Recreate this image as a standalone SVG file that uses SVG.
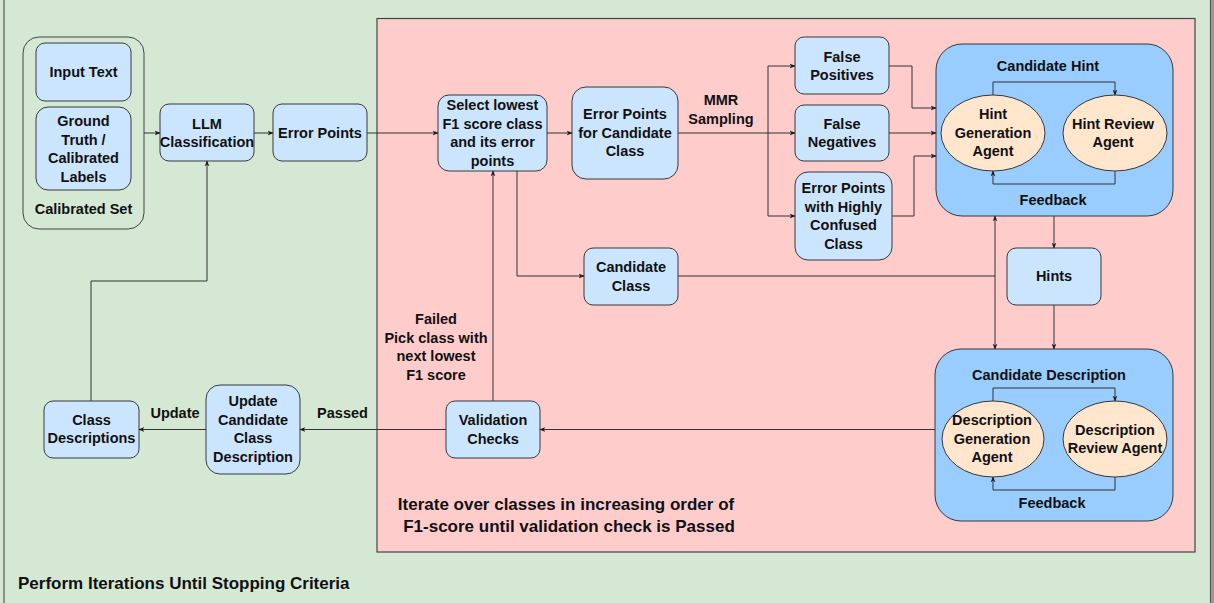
<svg xmlns="http://www.w3.org/2000/svg" width="1214" height="603" viewBox="0 0 1214 603">
<defs>
<marker id="ah" viewBox="0 0 10 10" refX="9" refY="5" markerWidth="6" markerHeight="6" orient="auto" markerUnits="userSpaceOnUse">
<path d="M0,1 L10,5 L0,9 L3,5 Z" fill="#1a1a1a"/>
</marker>
<style>
text{font-family:"Liberation Sans",Arial,Helvetica,sans-serif;font-weight:bold;font-size:14.5px;fill:#111;text-anchor:middle}
.big{font-size:17px}
.lft{text-anchor:start}
.node{fill:#cce5ff;stroke:#36393d;stroke-width:1}
.cont{fill:#99ccff;stroke:#36393d;stroke-width:1}
.ell{fill:#ffe6cc;stroke:#36393d;stroke-width:1}
.c path{fill:none;stroke:#333;stroke-width:1}
.a{marker-end:url(#ah)}
</style>
</defs>
<rect x="0" y="0" width="1214" height="603" fill="#d5e8d4"/>
<rect x="4" y="-5" width="1206.5" height="613" fill="#d5e8d4" stroke="#555" stroke-width="1.2"/>
<rect x="1211" y="0" width="3" height="603" fill="#9a9a9a"/>
<rect x="377" y="18.5" width="818" height="533.5" fill="#ffcccc" stroke="#444" stroke-width="1.2"/>
<text class="big" x="566" y="510">Iterate over classes in increasing order of</text>
<text class="big" x="569" y="532">F1-score until validation check is Passed</text>
<text class="big lft" x="18" y="589">Perform Iterations Until Stopping Criteria</text>

<g id="calibrated-set">
<rect x="23" y="37" width="121" height="192" rx="16" fill="none" stroke="#444"/>
<text x="83.5" y="214">Calibrated Set</text>
</g>
<g id="input-text">
<rect class="node" x="36" y="43" width="95" height="58" rx="9"/>
<text x="83.5" y="77">Input Text</text>
</g>
<g id="ground-truth">
<rect class="node" x="36" y="107" width="95" height="83" rx="12"/>
<text x="83.5" y="126">Ground<tspan x="83.5" dy="18.5">Truth /</tspan><tspan x="83.5" dy="18.5">Calibrated</tspan><tspan x="83.5" dy="18.5">Labels</tspan></text>
</g>
<g id="llm-classification">
<rect class="node" x="160" y="104" width="94" height="57" rx="9"/>
<text x="207" y="128.7">LLM<tspan x="207" dy="18.6">Classification</tspan></text>
</g>
<g id="error-points">
<rect class="node" x="273" y="104" width="94" height="57" rx="9"/>
<text x="320" y="138">Error Points</text>
</g>
<g id="select-lowest">
<rect class="node" x="438" y="95" width="109" height="76" rx="11"/>
<text x="492.5" y="110.3">Select lowest<tspan x="492.5" dy="18.5">F1 score class</tspan><tspan x="492.5" dy="18.5">and its error</tspan><tspan x="492.5" dy="18.5">points</tspan></text>
</g>
<g id="error-points-candidate">
<rect class="node" x="572" y="87" width="106" height="92" rx="14"/>
<text x="625" y="119.3">Error Points<tspan x="625" dy="18.5">for Candidate</tspan><tspan x="625" dy="18.5">Class</tspan></text>
</g>
<g id="candidate-class">
<rect class="node" x="584" y="248" width="94" height="57" rx="9"/>
<text x="631" y="272">Candidate<tspan x="631" dy="18.6">Class</tspan></text>
</g>
<g id="false-positives">
<rect class="node" x="795" y="37" width="94" height="57" rx="9"/>
<text x="842" y="61.7">False<tspan x="842" dy="18.6">Positives</tspan></text>
</g>
<g id="false-negatives">
<rect class="node" x="795" y="105" width="94" height="56" rx="9"/>
<text x="842" y="128.7">False<tspan x="842" dy="18.6">Negatives</tspan></text>
</g>
<g id="error-points-confused">
<rect class="node" x="795" y="172" width="97" height="88" rx="13"/>
<text x="843.5" y="193.3">Error Points<tspan x="843.5" dy="18.4">with Highly</tspan><tspan x="843.5" dy="18.4">Confused</tspan><tspan x="843.5" dy="18.4">Class</tspan></text>
</g>
<g id="candidate-hint">
<rect class="cont" x="936" y="44" width="237" height="172" rx="26"/>
<text x="1048" y="71">Candidate Hint</text>
<text x="1053" y="205">Feedback</text>
</g>
<g id="hint-generation-agent">
<ellipse class="ell" cx="993" cy="133" rx="52" ry="38"/>
<text x="993" y="119.3">Hint<tspan x="993" dy="18.5">Generation</tspan><tspan x="993" dy="18.5">Agent</tspan></text>
</g>
<g id="hint-review-agent">
<ellipse class="ell" cx="1115" cy="133" rx="52" ry="38"/>
<text x="1113" y="128.7">Hint Review<tspan x="1113" dy="18.6">Agent</tspan></text>
</g>
<g id="hints">
<rect class="node" x="1007" y="248" width="94" height="57" rx="9"/>
<text x="1054" y="281">Hints</text>
</g>
<g id="candidate-description">
<rect class="cont" x="935" y="349" width="238" height="172" rx="26"/>
<text x="1049" y="380">Candidate Description</text>
<text x="1052" y="508">Feedback</text>
</g>
<g id="description-generation-agent">
<ellipse class="ell" cx="993" cy="439" rx="51" ry="38"/>
<text x="992" y="425">Description<tspan x="992" dy="18.6">Generation</tspan><tspan x="992" dy="18.6">Agent</tspan></text>
</g>
<g id="description-review-agent">
<ellipse class="ell" cx="1115" cy="439" rx="52" ry="38"/>
<text x="1115" y="435">Description<tspan x="1115" dy="18.4">Review Agent</tspan></text>
</g>
<g id="validation-checks">
<rect class="node" x="446" y="401" width="94" height="57" rx="9"/>
<text x="493" y="425.3">Validation<tspan x="493" dy="18.4">Checks</tspan></text>
</g>
<g id="update-candidate">
<rect class="node" x="206" y="385" width="94" height="89" rx="14"/>
<text x="253" y="406.3">Update<tspan x="253" dy="18.4">Candidate</tspan><tspan x="253" dy="18.4">Class</tspan><tspan x="253" dy="18.4">Description</tspan></text>
</g>
<g id="class-descriptions">
<rect class="node" x="44" y="401" width="95" height="57" rx="9"/>
<text x="91.5" y="425">Class<tspan x="91.5" dy="18.4">Descriptions</tspan></text>
</g>

<g id="connectors" class="c">
<path class="a" d="M144,133 H160"/>
<path class="a" d="M254,133 H273"/>
<path class="a" d="M367,133 H438"/>
<path class="a" d="M547,133 H572"/>
<path class="a" d="M678,133 H795"/>
<path class="a" d="M768,133 V66 H795"/>
<path class="a" d="M768,133 V216 H795"/>
<path class="a" d="M889,66 H912 V108 H936"/>
<path class="a" d="M889,133 H936"/>
<path class="a" d="M892,216 H914 V156 H936"/>
<path class="a" d="M993,95 V82 H1115 V95"/>
<path class="a" d="M1115,171 V184 H993 V171"/>
<path class="a" d="M1054,216 V248"/>
<path class="a" d="M517,171 V276 H584"/>
<path d="M678,276 H995"/>
<path class="a" d="M995,276 V216"/>
<path class="a" d="M995,276 V349"/>
<path class="a" d="M1054,305 V349"/>
<path class="a" d="M993,401 V388 H1115 V401"/>
<path class="a" d="M1115,477 V490 H993 V477"/>
<path class="a" d="M935,429.5 H540"/>
<path class="a" d="M446,429.5 H300"/>
<path class="a" d="M206,429.5 H139"/>
<path class="a" d="M493,401 V171"/>
<path class="a" d="M91,401 V281 H207 V161"/>
<text x="721" y="105">MMR<tspan x="721" dy="19">Sampling</tspan></text>
<text x="175" y="418">Update</text>
<text x="342.5" y="418">Passed</text>
<text x="436" y="324">Failed<tspan x="436" dy="18.5">Pick class with</tspan><tspan x="436" dy="18.5">next lowest</tspan><tspan x="436" dy="18.5">F1 score</tspan></text>
</g>
</svg>
